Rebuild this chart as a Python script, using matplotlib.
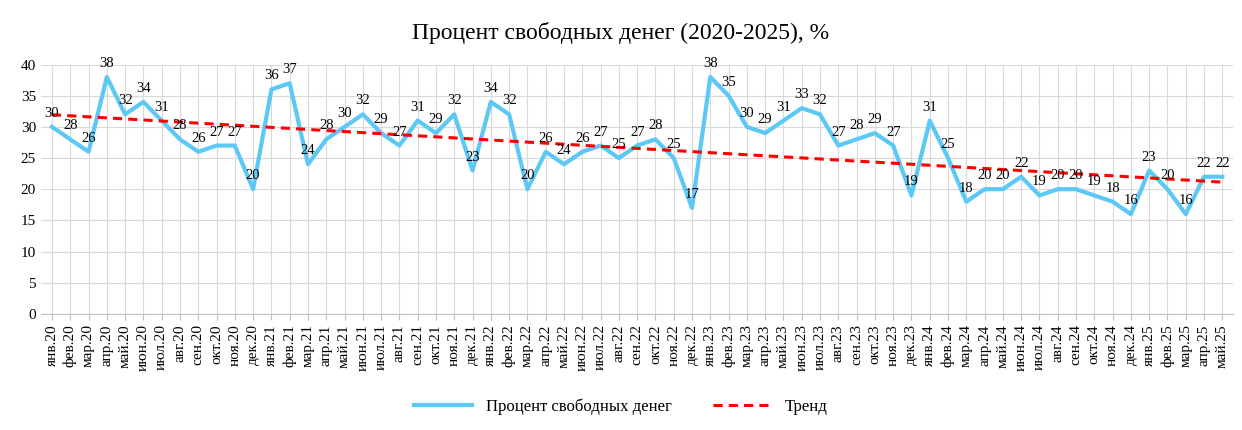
import numpy as np
import matplotlib
matplotlib.use('Agg')
import matplotlib.pyplot as plt

plt.rcParams['font.family'] = 'Liberation Serif'

month_names = ["янв", "фев", "мар", "апр", "май", "июн", "июл", "авг", "сен", "окт", "ноя", "дек"]
years = ["20", "21", "22", "23", "24", "25"]
labels = [f"{m}.{y}" for y in years for m in month_names][:65]

values = [30, 28, 26, 38, 32, 34, 31, 28, 26, 27, 27, 20,
          36, 37, 24, 28, 30, 32, 29, 27, 31, 29, 32, 23,
          34, 32, 20, 26, 24, 26, 27, 25, 27, 28, 25, 17,
          38, 35, 30, 29, 31, 33, 32, 27, 28, 29, 27, 19,
          31, 25, 18, 20, 20, 22, 19, 20, 20, 19, 18, 16,
          23, 20, 16, 22, 22]

x = np.arange(len(values))
coef = np.polyfit(x, values, 1)
trend = np.polyval(coef, x)

fig = plt.figure(figsize=(12.42, 4.30), dpi=100)
ax = fig.add_axes([0.033, 0.27, 0.96, 0.58])

ax.plot(x, values, color='#5BC8F5', linewidth=3, label='Процент свободных денег', zorder=3)
ax.plot(x, trend, color='#FF0000', linewidth=2.2, linestyle=(0, (3, 2)), label='Тренд', zorder=4)

for xi, v in zip(x, values):
    ax.annotate(str(v), (xi, v), xytext=(0, 5), textcoords='offset points',
                ha='center', va='bottom', fontsize=10.5, zorder=5)

ax.set_xlim(-0.6, len(values) - 0.4)
ax.set_ylim(0, 40)
ax.set_yticks(range(0, 41, 5))
ax.set_xticks(x)
ax.set_xticklabels(labels, rotation=90, fontsize=11)
ax.tick_params(axis='y', labelsize=11, length=0)
ax.tick_params(axis='x', length=4, color='#BFBFBF')
ax.grid(axis='y', color='#D9D9D9', linewidth=0.8)
ax.grid(axis='x', color='#D9D9D9', linewidth=0.8)
ax.set_axisbelow(True)
for s in ['top', 'right', 'left']:
    ax.spines[s].set_visible(False)
ax.spines['bottom'].set_color('#BFBFBF')

fig.suptitle('Процент свободных денег (2020-2025), %', fontsize=17, y=0.95)
fig.legend(loc='lower center', ncol=2, frameon=False, fontsize=12,
           bbox_to_anchor=(0.5, 0.0), handlelength=3.5, columnspacing=2.5)

fig.savefig('out.png', dpi=100)
